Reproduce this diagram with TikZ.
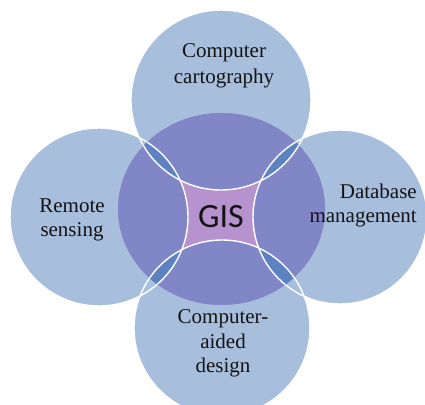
\documentclass[tikz,border=0pt]{standalone}
\usepackage{fontspec}
\setmainfont{Liberation Serif}
\newfontfamily\gisfont{Carlito}
\definecolor{outerblue}{RGB}{167,190,221}
\definecolor{centerpurple}{RGB}{128,134,198}
\definecolor{lensblue}{RGB}{93,130,194}
\definecolor{gispink}{RGB}{182,146,206}
\definecolor{txt}{RGB}{20,20,20}
\tikzset{
  lbl/.style={anchor=base, inner sep=0pt, text=txt, font=\fontsize{21}{25}\selectfont},
  rlbl/.style={lbl, anchor=base east},
  gislbl/.style={anchor=base, inner sep=0pt, text=txt, font=\gisfont\fontsize{34}{40}\selectfont},
  ring/.style={draw=white, line width=1.4pt},
}
\def\ctop{(221,100) circle[radius=90]}
\def\cleft{(99,217) circle[radius=89]}
\def\cright{(340,217) circle[radius=87]}
\def\cbot{(222,328) circle[radius=88]}
\def\ccen{(221.5,209) ellipse[x radius=103.5, y radius=96]}
\begin{document}
\begin{tikzpicture}[x=1pt,y=-1pt]
\useasboundingbox (0,0) rectangle (425,404);
\clip (0,0) rectangle (425,404);
% outer circles
\fill[outerblue] \ctop; \fill[outerblue] \cleft; \fill[outerblue] \cright; \fill[outerblue] \cbot;
\draw[ring] \ctop; \draw[ring] \cleft; \draw[ring] \cright; \draw[ring] \cbot;
% central circle
\fill[gispink] \ccen;
\begin{scope}
  \clip \ccen;
  \fill[centerpurple] \ctop; \fill[centerpurple] \cleft; \fill[centerpurple] \cright; \fill[centerpurple] \cbot;
  \begin{scope}\clip \ctop; \fill[lensblue] \cleft; \fill[lensblue] \cright;\end{scope}
  \begin{scope}\clip \cbot; \fill[lensblue] \cleft; \fill[lensblue] \cright;\end{scope}
  \draw[ring] \ctop; \draw[ring] \cleft; \draw[ring] \cright; \draw[ring] \cbot;
\end{scope}
% labels
\node[lbl] (t1) at (224,58) {Computer};
\node[lbl] (t2) at (224,83) {cartography};
\node[lbl] (l1) at (72,212) {Remote};
\node[lbl] (l2) at (72,236) {sensing};
\node[rlbl] (r1) at (417,198) {Database};
\node[rlbl] (r2) at (417,222) {management};
\node[lbl] (b1) at (223,323) {Computer-};
\node[lbl] (b2) at (223,348) {aided};
\node[lbl] (b3) at (223,372) {design};
\node[gislbl] (gis) at (221,227) {GIS};
\end{tikzpicture}
\end{document}
